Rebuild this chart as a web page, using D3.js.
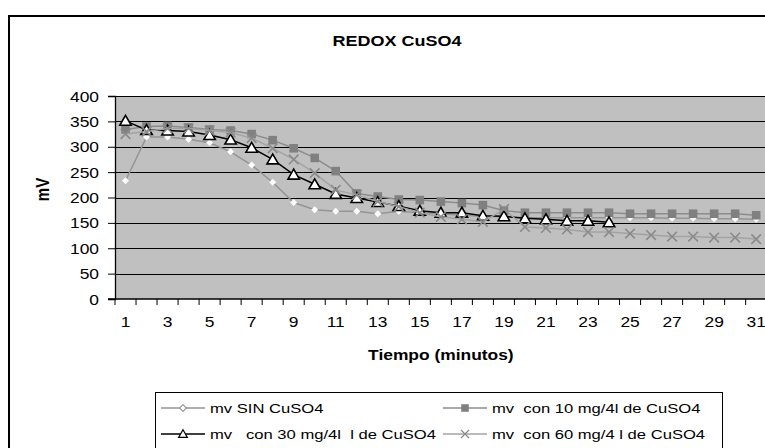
<!DOCTYPE html>
<html>
<head>
<meta charset="utf-8">
<script src="https://cdn.jsdelivr.net/npm/d3@7/dist/d3.min.js"></script>
<style>
  html, body { margin: 0; padding: 0; background: #fff; overflow: hidden; }
  svg { display: block; font-family: "Liberation Sans", Arial, sans-serif; }
</style>
</head>
<body>
<svg id="chart" width="765" height="448"></svg>
<script>
// ---- data ----
const minutes = d3.range(1, 32);
const yTicks = [0, 50, 100, 150, 200, 250, 300, 350, 400];
const xTickLabels = [1, 3, 5, 7, 9, 11, 13, 15, 17, 19, 21, 23, 25, 27, 29, 31];

const sinCuSO4 = [233, 319, 319, 315, 308, 290, 264, 230, 190, 176, 173, 173, 168, 173, 170,
                  168, 165, 163, 162, 160, 160, 160, 160, 160, 160, 160, 159, 159, 158, 158, 157];
const con10 = [334, 340, 341, 338, 334, 332, 325, 313, 297, 278, 252, 208, 202, 196, 195,
               192, 189, 185, 174, 170, 170, 170, 170, 170, 168, 168, 168, 168, 168, 168, 165];
const con30 = [351, 333, 332, 330, 323, 314, 298, 275, 245, 226, 207, 199, 191, 183, 174,
               170, 170, 164, 163, 159, 157, 154, 154, 151];
const con60 = [325, 330, 336, 336, 332, 328, 317, 297, 275, 248, 215, 205, 192, 182, 170,
               162, 157, 152, 177, 142, 140, 137, 132, 132, 129, 126, 123, 123, 121, 121, 118];

const seriesNames = ["mv SIN CuSO4", "mv  con 10 mg/4l de CuSO4",
                     "mv   con 30 mg/4l  l de CuSO4", "mv  con 60 mg/4 l de CuSO4"];

// ---- layout ----
const svg = d3.select("#chart");
const SX = 1.2; // horizontal text stretch of the original picture
const plot = { left: 115, top: 96, right: 766.7, bottom: 299 };

const x = d3.scaleBand().domain(minutes).range([plot.left, plot.right]).padding(0);
const y = d3.scaleLinear().domain([0, 400]).range([plot.bottom, plot.top]);

function stretchedText(g, tx, ty, str, opts) {
  return g.append("text")
    .attr("transform", `translate(${tx},${ty}) scale(${opts.sx || SX},1)`)
    .attr("text-anchor", opts.anchor || "start")
    .attr("dy", "0.35em")
    .attr("font-size", opts.size || 14)
    .attr("font-weight", opts.weight || "normal")
    .attr("fill", "#000")
    .style("white-space", "pre")
    .text(str);
}

// outer chart border
svg.append("rect").attr("x", 9).attr("y", 16).attr("width", 800).attr("height", 500)
  .attr("fill", "#fff").attr("stroke", "#000").attr("stroke-width", 2);

// plot background
svg.append("rect").attr("x", plot.left).attr("y", plot.top)
  .attr("width", plot.right - plot.left).attr("height", plot.bottom - plot.top)
  .attr("fill", "#c0c0c0");

// gridlines
svg.append("g").selectAll("line").data(yTicks.filter(d => d > 0)).join("line")
  .attr("x1", plot.left).attr("x2", plot.right)
  .attr("y1", d => Math.round(y(d)) + 0.5).attr("y2", d => Math.round(y(d)) + 0.5)
  .attr("stroke", "#000").attr("stroke-width", 1);

// y axis
const yAxis = svg.append("g").attr("transform", `translate(${plot.left},0)`)
  .call(d3.axisLeft(y).tickValues(yTicks).tickSize(7).tickPadding(0));
yAxis.select(".domain").attr("stroke", "#000").attr("stroke-width", 1.3);
yAxis.selectAll(".tick line").attr("stroke", "#000");
yAxis.selectAll(".tick text").remove();
yAxis.selectAll(".tick").each(function(d) {
  stretchedText(d3.select(this), -16, 0, String(d), { anchor: "end", size: 14.5 });
});

// x axis
const xAxis = svg.append("g").attr("transform", `translate(0,${plot.bottom})`)
  .call(d3.axisBottom(x).tickSize(0).tickFormat(""));
xAxis.select(".domain").attr("stroke", "#000").attr("stroke-width", 1.3)
  .attr("d", `M${plot.left - 7},0H${plot.right}`);
xAxis.append("g").selectAll("line").data(minutes).join("line")
  .attr("x1", d => x(d)).attr("x2", d => x(d)).attr("y1", 0).attr("y2", 6)
  .attr("stroke", "#000");
xAxis.selectAll(".tick").each(function(d) {
  if (xTickLabels.includes(d)) {
    stretchedText(d3.select(this), 0, 23, String(d), { anchor: "middle", size: 14.5 });
  }
});

// axis titles & chart title
stretchedText(svg, 397, 41, "REDOX CuSO4", { anchor: "middle", size: 15, weight: "bold" });
stretchedText(svg, (plot.left + plot.right) / 2, 355, "Tiempo (minutos)", { anchor: "middle", size: 14.5, weight: "bold" });
svg.append("text")
  .attr("transform", `translate(43,${(plot.top + plot.bottom) / 2 - 8}) rotate(-90) scale(1,${SX})`)
  .attr("text-anchor", "middle").attr("dy", "0.35em")
  .attr("font-size", 15).attr("font-weight", "bold").text("mV");

// ---- series ----
const series = [
  { name: seriesNames[0], values: sinCuSO4, line: "#959595", marker: "diamond", fill: "#fff", stroke: "none" },
  { name: seriesNames[1], values: con10, line: "#8c8c8c", marker: "square", fill: "#808080", stroke: "none" },
  { name: seriesNames[2], values: con30, line: "#000", marker: "triangle", fill: "#fff", stroke: "#000" },
  { name: seriesNames[3], values: con60, line: "#a3a3a3", marker: "x", fill: "none", stroke: "#8a8a8a" }
];

function markerPath(type, s) {
  switch (type) {
    case "diamond": return `M0,${-s}L${s},0L0,${s}L${-s},0Z`;
    case "square": return `M${-s},${-s}H${s}V${s}H${-s}Z`;
    case "triangle": return `M0,${-s * 1.05}L${s * 1.1},${s * 0.85}H${-s * 1.1}Z`;
    case "x": return `M${-s},${-s}L${s},${s}M${s},${-s}L${-s},${s}`;
  }
}
const markerSize = { diamond: 3.5, square: 4.3, triangle: 5.2, x: 4.8 };

const cx = d => x(d) + x.bandwidth() / 2;
const line = d3.line().x((v, i) => cx(minutes[i])).y(v => y(v));

const gS = svg.append("g");
series.forEach(s => {
  const g = gS.append("g");
  g.append("path").attr("d", line(s.values)).attr("fill", "none")
    .attr("stroke", s.line).attr("stroke-width", 1.5);
  g.selectAll("path.m").data(s.values).join("path").attr("class", "m")
    .attr("transform", (v, i) => `translate(${cx(minutes[i])},${y(v)})`)
    .attr("d", markerPath(s.marker, markerSize[s.marker]))
    .attr("fill", s.fill)
    .attr("stroke", s.stroke)
    .attr("stroke-width", 1.6);
});

// ---- legend ----
const leg = svg.append("g");
leg.append("rect").attr("x", 155.5).attr("y", 392.5).attr("width", 567).attr("height", 70)
  .attr("fill", "#fff").attr("stroke", "#000").attr("stroke-width", 1);
const legPos = [
  { x: 161, y: 408 }, { x: 443, y: 408 },
  { x: 161, y: 434 }, { x: 443, y: 434 }
];
const legendStroke = ["#999", "none", "#000", "#8a8a8a"];
series.forEach((s, i) => {
  const p = legPos[i];
  const g = leg.append("g").attr("transform", `translate(${p.x},${p.y})`);
  g.append("line").attr("x1", 0).attr("x2", 44).attr("y1", 0).attr("y2", 0)
    .attr("stroke", s.line).attr("stroke-width", 1.3);
  const ms = { diamond: 3.3, square: 3.8, triangle: 4, x: 4 }[s.marker];
  g.append("path").attr("transform", "translate(22,0)")
    .attr("d", markerPath(s.marker, ms))
    .attr("fill", s.fill)
    .attr("stroke", legendStroke[i]).attr("stroke-width", 1.2);
  stretchedText(g, 49, 0, s.name, { size: 13.5, sx: 1.23 });
});
</script>
</body>
</html>
